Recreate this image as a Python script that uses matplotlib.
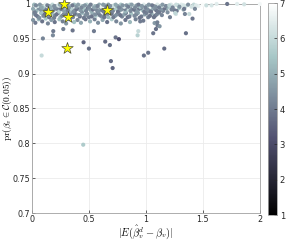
import matplotlib.pyplot as plt

plt.rcParams['font.family'] = ['DejaVu Sans']
plt.rcParams['mathtext.fontset'] = 'cm'

# dense band near the top, (x, y, colour value)
band_top = [(0.02,0.999,5.2),(0.05,0.997,6.1),(0.07,0.999,4.6),(0.10,0.996,5.5),(0.12,0.999,6.5),
            (0.15,0.997,4.8),(0.18,0.999,5.9),(0.21,0.996,4.4),(0.23,0.998,6.3),(0.26,0.997,5.0),
            (0.29,0.995,5.7),(0.31,0.999,4.7),(0.34,0.997,6.0),(0.37,0.999,5.3),(0.39,0.996,4.5),
            (0.42,0.998,6.4),(0.45,0.997,5.1),(0.48,0.999,5.8),(0.50,0.996,4.3),(0.53,0.998,6.2),
            (0.56,0.997,5.4),(0.59,0.999,4.9),(0.61,0.996,6.6),(0.64,0.998,5.0),(0.67,0.999,4.6),
            (0.70,0.996,5.9),(0.72,0.998,6.1),(0.75,0.997,4.8),(0.78,0.999,5.6),(0.81,0.996,6.4),
            (0.83,0.998,4.5),(0.86,0.999,5.7),(0.89,0.997,6.2),(0.92,0.998,4.7),(0.95,0.996,5.5),
            (0.98,0.999,6.5),(1.01,0.997,5.1),(1.04,0.998,6.0),(1.07,0.996,4.6),(1.10,0.999,6.4),
            (1.13,0.997,5.8),(1.16,0.998,6.6),(1.19,0.996,5.2),(1.22,0.999,6.3),(1.25,0.997,6.7),
            (1.28,0.998,5.6),(1.31,0.999,6.5),(1.35,0.997,6.1),(1.38,0.998,6.8),(1.42,0.999,5.9),
            (1.46,0.997,6.6),(1.50,0.999,6.9)]

band_top2 = [(0.035,0.998,4.3),(0.085,0.995,4.8),(0.135,0.998,4.1),(0.165,0.995,5.0),(0.195,0.997,4.4),
             (0.245,0.999,4.9),(0.275,0.996,4.2),(0.325,0.995,4.6),(0.355,0.998,4.0),(0.405,0.999,4.7),
             (0.435,0.995,4.3),(0.465,0.998,4.5),(0.515,0.999,4.1),(0.545,0.995,4.8),(0.575,0.997,4.2),
             (0.625,0.999,4.6),(0.655,0.996,4.0),(0.685,0.997,4.4),(0.735,0.999,4.9),(0.765,0.995,4.2),
             (0.795,0.998,4.5),(0.845,0.996,4.1),(0.875,0.999,4.7),(0.905,0.995,4.3),(0.935,0.999,4.0),
             (0.965,0.997,4.6),(0.995,0.995,4.2),(1.025,0.999,4.5),(1.055,0.998,4.0),(1.085,0.996,4.4),
             (1.115,0.995,4.1),(1.145,0.999,4.6),(1.175,0.997,4.3),(1.205,0.998,5.8),(1.235,0.995,4.2),
             (1.265,0.999,6.1),(1.295,0.996,4.5),(1.33,0.998,6.3),(1.37,0.999,4.4),(1.40,0.996,6.2),
             (1.44,0.998,6.4)]

band_upper = [(0.01,0.993,4.9),(0.04,0.990,5.2),(0.06,0.994,4.4),(0.09,0.991,5.6),(0.11,0.993,4.6),
              (0.14,0.989,4.2),(0.16,0.994,5.4),(0.19,0.991,4.8),(0.22,0.993,4.1),(0.24,0.989,5.7),
              (0.27,0.992,4.6),(0.30,0.994,4.3),(0.33,0.990,5.2),(0.35,0.993,5.8),(0.38,0.991,4.0),
              (0.41,0.994,4.9),(0.44,0.989,4.4),(0.46,0.992,5.5),(0.49,0.994,4.0),(0.52,0.990,5.0),
              (0.55,0.993,6.0),(0.57,0.991,4.3),(0.60,0.994,4.7),(0.63,0.989,4.1),(0.66,0.992,5.4),
              (0.69,0.994,4.5),(0.71,0.990,4.2),(0.74,0.993,5.6),(0.77,0.991,4.8),(0.80,0.994,4.0),
              (0.82,0.989,5.1),(0.85,0.992,5.9),(0.88,0.994,4.3),(0.91,0.990,4.7),(0.94,0.993,3.9),
              (0.97,0.991,5.5),(1.00,0.994,4.4),(1.03,0.990,4.1),(1.06,0.993,5.2),(1.09,0.991,3.9),
              (1.12,0.994,5.7),(1.15,0.990,4.2),(1.18,0.993,5.0),(1.21,0.995,5.9),(1.25,0.991,4.0),
              (1.29,0.994,5.6),(1.33,0.992,4.8)]

band_upper2 = [(0.025,0.988,4.1),(0.075,0.992,4.5),(0.125,0.991,3.9),(0.175,0.989,4.6),(0.205,0.994,4.2),
               (0.255,0.993,4.0),(0.285,0.989,4.7),(0.315,0.991,4.1),(0.365,0.989,4.4),(0.395,0.993,3.9),
               (0.425,0.991,4.6),(0.475,0.990,4.2),(0.505,0.993,4.5),(0.535,0.992,3.9),(0.585,0.989,4.4),
               (0.615,0.991,4.0),(0.645,0.993,4.6),(0.675,0.990,4.1),(0.705,0.993,4.4),(0.755,0.989,3.9),
               (0.785,0.992,4.5),(0.815,0.993,4.1),(0.865,0.990,4.3),(0.895,0.992,3.9),(0.925,0.989,4.6),
               (0.955,0.994,4.2),(0.985,0.989,4.0),(1.015,0.992,4.4),(1.045,0.989,3.9),(1.075,0.994,4.3),
               (1.105,0.989,4.0),(1.135,0.992,4.5),(1.165,0.994,3.9),(1.225,0.992,4.2),(1.27,0.990,4.0)]

band_mid = [(0.02,0.986,4.7),(0.05,0.982,4.1),(0.08,0.987,5.4),(0.10,0.983,4.3),(0.13,0.985,5.0),
            (0.15,0.981,3.9),(0.18,0.986,5.6),(0.20,0.983,4.4),(0.23,0.987,4.2),(0.25,0.981,5.1),
            (0.28,0.985,4.0),(0.31,0.983,5.4),(0.34,0.987,4.6),(0.36,0.981,4.2),(0.39,0.985,4.9),
            (0.42,0.982,3.8),(0.44,0.987,5.5),(0.47,0.984,4.4),(0.50,0.981,4.1),(0.53,0.986,5.0),
            (0.56,0.983,5.7),(0.58,0.987,4.0),(0.61,0.982,4.5),(0.64,0.985,4.2),(0.67,0.981,5.2),
            (0.70,0.986,3.9),(0.73,0.983,4.7),(0.76,0.987,5.3),(0.79,0.982,4.2),(0.81,0.985,4.8),
            (0.84,0.981,3.8),(0.87,0.986,5.4),(0.90,0.983,4.3),(0.93,0.987,4.9),(0.96,0.982,4.0),
            (0.99,0.985,4.6),(1.02,0.981,4.1),(1.05,0.986,5.1),(1.08,0.983,3.9),(1.11,0.987,5.3),
            (1.14,0.984,4.2)]

band_mid2 = [(0.035,0.984,4.0),(0.065,0.980,4.4),(0.115,0.986,3.9),(0.145,0.984,4.5),(0.195,0.980,4.1),
             (0.215,0.985,3.9),(0.265,0.983,4.3),(0.295,0.987,4.0),(0.345,0.982,4.4),(0.375,0.986,3.9),
             (0.415,0.984,4.2),(0.455,0.980,4.0),(0.485,0.986,4.3),(0.525,0.982,3.9),(0.555,0.985,4.4),
             (0.595,0.984,4.1),(0.635,0.981,3.9),(0.665,0.986,4.3),(0.715,0.981,4.0),(0.745,0.985,4.4),
             (0.775,0.984,3.9),(0.825,0.987,4.2),(0.855,0.982,4.0),(0.915,0.985,4.3),(0.945,0.980,3.9),
             (1.005,0.987,4.1),(1.035,0.983,3.9),(1.095,0.985,4.2)]

band_low = [(0.01,0.977,4.5),(0.03,0.973,4.0),(0.06,0.978,5.2),(0.09,0.975,3.9),(0.12,0.979,5.5),
            (0.14,0.972,4.2),(0.17,0.977,4.7),(0.20,0.974,3.9),(0.24,0.978,5.3),(0.27,0.975,4.1),
            (0.30,0.972,4.5),(0.33,0.978,4.0),(0.37,0.974,5.4),(0.40,0.977,4.3),(0.43,0.973,4.8),
            (0.47,0.978,3.9),(0.51,0.975,5.1),(0.55,0.978,4.1),(0.58,0.973,4.4),(0.62,0.977,4.9),
            (0.66,0.974,3.8),(0.70,0.978,5.6),(0.74,0.975,4.2),(0.78,0.972,4.5),(0.82,0.977,3.9),
            (0.86,0.974,5.2),(0.91,0.978,4.1),(0.95,0.975,4.0)]

# scattered points away from the band
sparse = [(0.085,0.926,6.0),(0.096,0.9505,4.2),(0.187,0.961,4.0),(0.184,0.955,4.3),(0.275,0.964,4.1),
          (0.357,0.962,3.9),(0.453,0.945,3.6),(0.50,0.936,3.8),(0.544,0.961,4.0),(0.643,0.946,3.7),
          (0.684,0.941,3.8),(0.693,0.918,3.7),(0.708,0.908,3.6),(0.734,0.952,3.9),(0.763,0.9495,3.2),
          (0.933,0.961,6.0),(0.927,0.955,5.8),(0.982,0.926,3.8),(1.02,0.930,3.9),(1.161,0.936,3.7),
          (1.351,0.958,3.8),(1.064,0.958,3.9),(1.088,0.964,3.8),(1.102,0.969,4.0),(1.12,0.968,4.5),
          (1.076,0.9726,4.6),(0.977,0.976,4.0),(1.211,0.981,4.1),(1.409,0.979,3.9),(1.342,0.9856,4.2),
          (1.263,0.9856,6.2),(1.43,0.993,4.3),(1.117,0.988,4.0),(1.19,0.988,4.4),(1.07,0.981,3.9),
          (1.10,0.9736,4.1),(1.257,0.987,5.9),(1.336,0.993,4.0),(1.38,0.9856,6.0),(1.713,1.0,3.9),
          (1.80,1.0,6.5),(1.862,0.9995,6.2),(2.0,1.0,6.8),(1.62,1.0,6.5),(1.576,0.998,6.3),
          (1.53,0.998,6.1),(0.45,0.798,5.6)]

star_x = [0.137, 0.284, 0.319, 0.655, 0.304]
star_y = [0.988, 1.000, 0.982, 0.991, 0.9365]

pts = band_low + band_mid + band_mid2 + band_upper + band_upper2 + band_top + band_top2 + sparse
xs = [p[0] for p in pts]
ys = [p[1] for p in pts]
cs = [p[2] for p in pts]

fig = plt.figure(figsize=(2.93, 2.40), dpi=100)
ax = fig.add_axes([0.109, 0.1125, 0.778, 0.871])
cax = fig.add_axes([0.914, 0.104, 0.031, 0.883])

sc = ax.scatter(xs, ys, c=cs, cmap='bone', vmin=1, vmax=7, s=9, linewidths=0,
                clip_on=False, zorder=3)
ax.scatter(star_x, star_y, marker='*', s=75, facecolor='#ffff00', edgecolor='#4d4d33',
           linewidths=0.5, zorder=4, clip_on=False)

ax.set_xlim(0, 2)
ax.set_ylim(0.7, 1.0)
ax.set_xticks([0, 0.5, 1, 1.5, 2])
ax.set_xticklabels(['0', '0.5', '1', '1.5', '2'])
ax.set_yticks([0.7, 0.75, 0.8, 0.85, 0.9, 0.95, 1])
ax.set_yticklabels(['0.7', '0.75', '0.8', '0.85', '0.9', '0.95', '1'])
ax.grid(True, color='#ebebeb', linewidth=0.6)
ax.set_axisbelow(True)
ax.tick_params(direction='in', length=2, width=0.5, labelsize=5.8, colors='#262626',
               pad=1.5)
for s in ax.spines.values():
    s.set_color('#a0a0a0')
    s.set_linewidth(0.6)

ax.set_xlabel(r'$|E(\hat{\beta}_v^d - \beta_v)|$', fontsize=7.5)
ax.set_ylabel(r'$\mathrm{pr}(\beta_v \in \mathcal{C}(0.05))$', fontsize=6.8)
ax.xaxis.set_label_coords(0.5, -0.05)
ax.yaxis.set_label_coords(-0.079, 0.5)

cb = fig.colorbar(sc, cax=cax)
cb.set_ticks([1, 2, 3, 4, 5, 6, 7])
cb.ax.tick_params(direction='in', length=2, width=0.5, labelsize=6, colors='#262626', pad=2)
cb.outline.set_edgecolor('#a0a0a0')
cb.outline.set_linewidth(0.6)

fig.savefig('out.png', dpi=100)
